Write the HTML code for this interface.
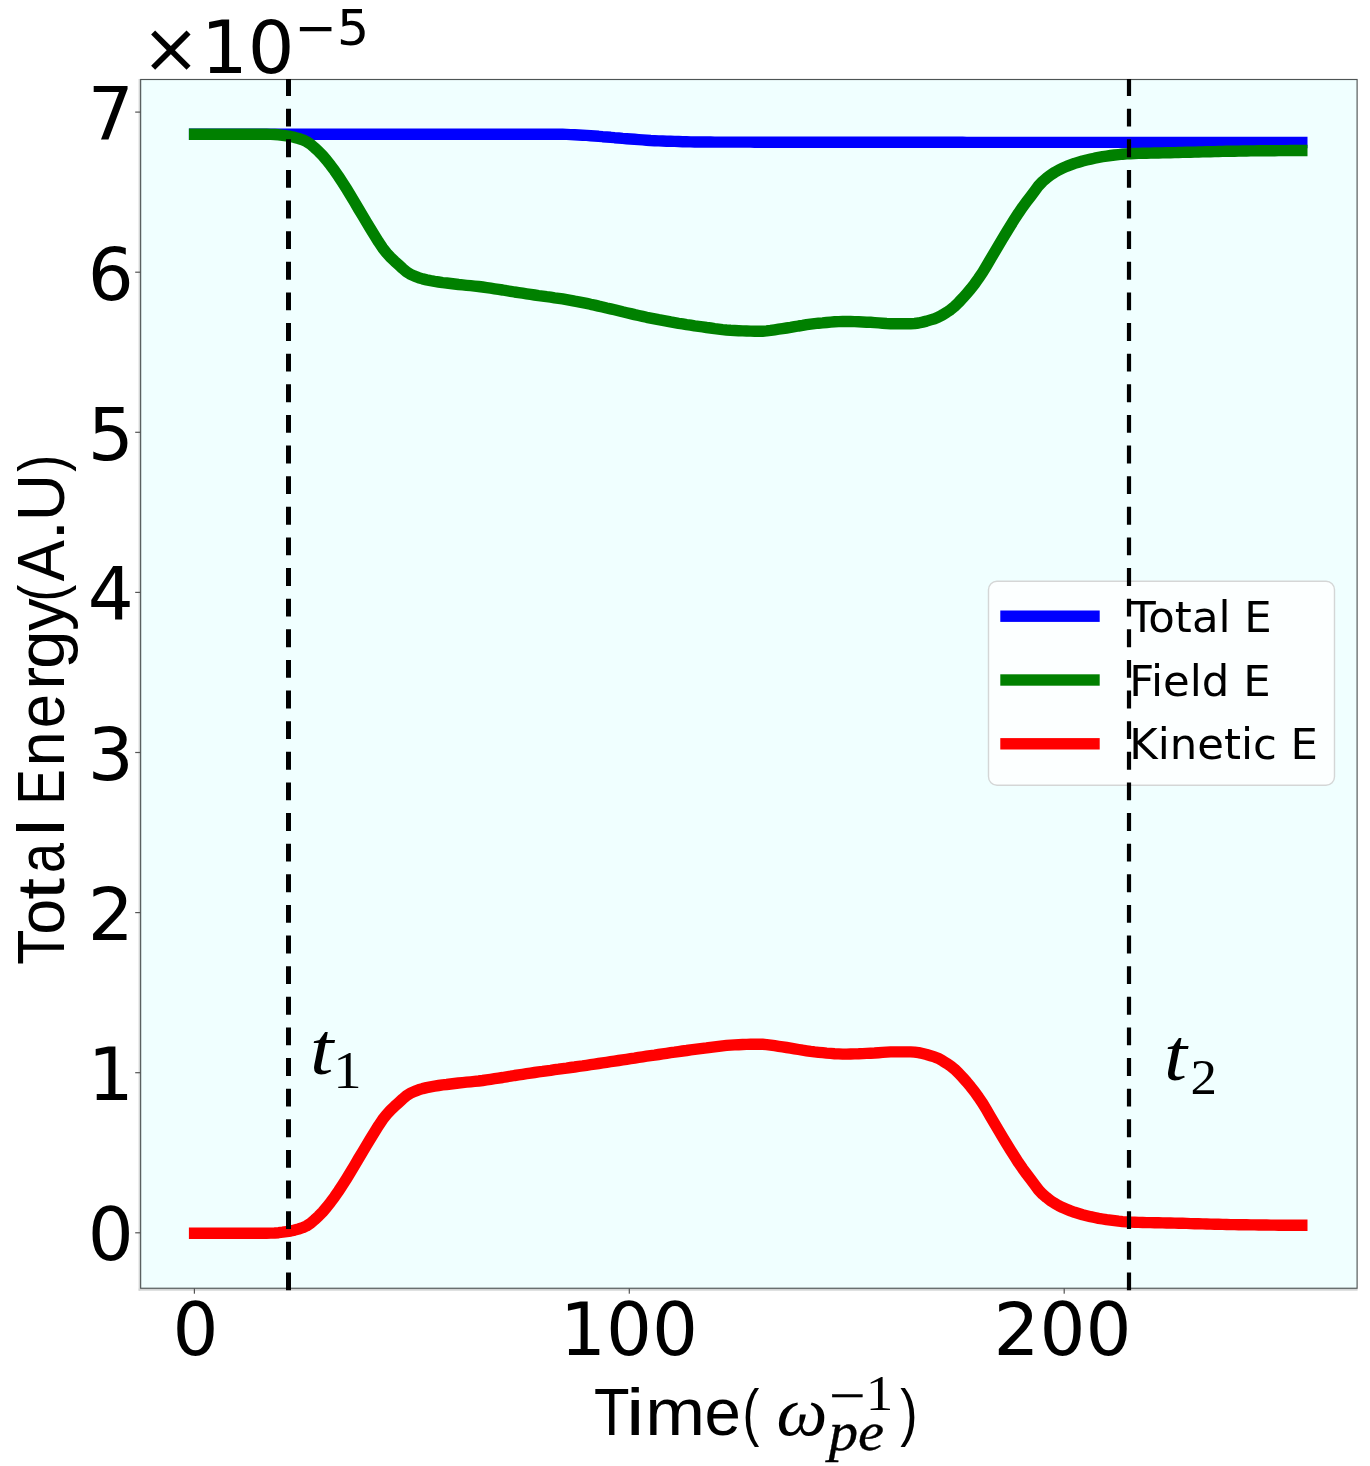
<!DOCTYPE html>
<html lang="en">
<head>
<meta charset="utf-8">
<title>Energy vs Time</title>
<style>
html,body{margin:0;padding:0;background:#fff;}
body{width:1370px;height:1466px;overflow:hidden;}
svg{display:block;}
</style>
</head>
<body>
<svg width="1370" height="1466" viewBox="0 0 1370 1466">
<rect x="0" y="0" width="1370" height="1466" fill="#ffffff"/>
<rect x="138.6" y="79" width="1.6" height="1211.7" fill="#d2d4d4"/>
<rect x="138.6" y="1288.6" width="1219" height="2.1" fill="#d2d4d4"/>
<rect x="140.65" y="79.5" width="1216.45" height="1208.75" fill="#f0ffff" stroke="#4e5454" stroke-width="1.15"/>
<rect x="193.8" y="1288.3" width="1.2" height="5.4" fill="#555"/>
<rect x="628.6999999999999" y="1288.3" width="1.2" height="5.4" fill="#555"/>
<rect x="1063.6000000000001" y="1288.3" width="1.2" height="5.4" fill="#555"/>
<rect x="135.2" y="1232.2" width="5.4" height="1.2" fill="#555"/>
<rect x="135.2" y="1072.1000000000001" width="5.4" height="1.2" fill="#555"/>
<rect x="135.2" y="911.9999999999999" width="5.4" height="1.2" fill="#555"/>
<rect x="135.2" y="751.9" width="5.4" height="1.2" fill="#555"/>
<rect x="135.2" y="591.8" width="5.4" height="1.2" fill="#555"/>
<rect x="135.2" y="431.69999999999993" width="5.4" height="1.2" fill="#555"/>
<rect x="135.2" y="271.6" width="5.4" height="1.2" fill="#555"/>
<rect x="135.2" y="111.49999999999991" width="5.4" height="1.2" fill="#555"/>
<g fill="none" stroke-width="11.4" stroke-linecap="square" stroke-linejoin="round">
<polyline stroke="#0000ff" points="194.6,134.2 198.6,134.2 202.6,134.2 206.6,134.2 210.6,134.2 214.6,134.2 218.6,134.2 222.6,134.2 226.6,134.2 230.6,134.2 234.6,134.2 238.6,134.2 242.6,134.2 246.6,134.2 250.6,134.2 254.6,134.2 258.6,134.2 262.6,134.2 266.6,134.2 270.6,134.2 274.6,134.2 278.6,134.2 282.6,134.2 286.6,134.2 290.6,134.2 294.6,134.2 298.6,134.2 302.6,134.2 306.6,134.2 310.6,134.2 314.6,134.2 318.6,134.2 322.6,134.2 326.6,134.2 330.6,134.2 334.6,134.2 338.6,134.2 342.6,134.2 346.6,134.2 350.6,134.2 354.6,134.2 358.6,134.2 362.6,134.2 366.6,134.2 370.6,134.2 374.6,134.2 378.6,134.2 382.6,134.2 386.6,134.2 390.6,134.2 394.6,134.2 398.6,134.2 402.6,134.2 406.6,134.2 410.6,134.2 414.6,134.2 418.6,134.2 422.6,134.2 426.6,134.2 430.6,134.2 434.6,134.2 438.6,134.2 442.6,134.2 446.6,134.2 450.6,134.2 454.6,134.2 458.6,134.2 462.6,134.2 466.6,134.2 470.6,134.2 474.6,134.2 478.6,134.2 482.6,134.2 486.6,134.2 490.6,134.2 494.6,134.2 498.6,134.2 502.6,134.2 506.6,134.2 510.6,134.2 514.6,134.2 518.6,134.2 522.6,134.2 526.6,134.2 530.6,134.2 534.6,134.2 538.6,134.2 542.6,134.2 546.6,134.2 550.6,134.2 554.6,134.2 558.6,134.2 562.6,134.3 566.6,134.4 570.6,134.6 574.6,134.8 578.6,135.0 582.6,135.2 586.6,135.4 590.6,135.7 594.6,136.0 598.6,136.3 602.6,136.7 606.6,137.0 610.6,137.3 614.6,137.7 618.6,138.0 622.6,138.4 626.6,138.7 630.6,139.0 634.6,139.3 638.6,139.6 642.6,139.9 646.6,140.2 650.6,140.5 654.6,140.7 658.6,140.9 662.6,141.0 666.6,141.2 670.6,141.3 674.6,141.4 678.6,141.5 682.6,141.7 686.6,141.8 690.6,141.9 694.6,142.0 698.6,142.0 702.6,142.0 706.6,142.0 710.6,142.0 714.6,142.1 718.6,142.1 722.6,142.1 726.6,142.1 730.6,142.1 734.6,142.1 738.6,142.1 742.6,142.1 746.6,142.1 750.6,142.1 754.6,142.2 758.6,142.2 762.6,142.2 766.6,142.2 770.6,142.2 774.6,142.2 778.6,142.2 782.6,142.2 786.6,142.2 790.6,142.2 794.6,142.2 798.6,142.2 802.6,142.2 806.6,142.2 810.6,142.2 814.6,142.2 818.6,142.2 822.6,142.2 826.6,142.2 830.6,142.3 834.6,142.3 838.6,142.3 842.6,142.3 846.6,142.3 850.6,142.3 854.6,142.3 858.6,142.3 862.6,142.3 866.6,142.3 870.6,142.3 874.6,142.3 878.6,142.3 882.6,142.3 886.6,142.3 890.6,142.3 894.6,142.3 898.6,142.3 902.6,142.3 906.6,142.3 910.6,142.3 914.6,142.3 918.6,142.3 922.6,142.3 926.6,142.3 930.6,142.3 934.6,142.3 938.6,142.3 942.6,142.3 946.6,142.3 950.6,142.3 954.6,142.3 958.6,142.3 962.6,142.3 966.6,142.4 970.6,142.4 974.6,142.4 978.6,142.4 982.6,142.4 986.6,142.4 990.6,142.4 994.6,142.4 998.6,142.4 1002.6,142.4 1006.6,142.4 1010.6,142.4 1014.6,142.4 1018.6,142.4 1022.6,142.4 1026.6,142.4 1030.6,142.4 1034.6,142.4 1038.6,142.4 1042.6,142.4 1046.6,142.4 1050.6,142.4 1054.6,142.4 1058.6,142.4 1062.6,142.4 1066.6,142.4 1070.6,142.4 1074.6,142.4 1078.6,142.4 1082.6,142.4 1086.6,142.4 1090.6,142.4 1094.6,142.4 1098.6,142.4 1102.6,142.4 1106.6,142.4 1110.6,142.4 1114.6,142.4 1118.6,142.4 1122.6,142.5 1126.6,142.5 1130.6,142.5 1134.6,142.5 1138.6,142.5 1142.6,142.5 1146.6,142.5 1150.6,142.5 1154.6,142.5 1158.6,142.5 1162.6,142.5 1166.6,142.5 1170.6,142.5 1174.6,142.5 1178.6,142.5 1182.6,142.5 1186.6,142.5 1190.6,142.5 1194.6,142.5 1198.6,142.5 1202.6,142.5 1206.6,142.5 1210.6,142.5 1214.6,142.5 1218.6,142.5 1222.6,142.5 1226.6,142.5 1230.6,142.5 1234.6,142.5 1238.6,142.5 1242.6,142.5 1246.6,142.5 1250.6,142.5 1254.6,142.5 1258.6,142.5 1262.6,142.5 1266.6,142.5 1270.6,142.5 1274.6,142.5 1278.6,142.5 1282.6,142.5 1286.6,142.5 1290.6,142.5 1294.6,142.5 1301.8,142.5"/>
<polyline stroke="#008000" points="194.6,134.2 198.6,134.2 202.6,134.2 206.6,134.2 210.6,134.2 214.6,134.2 218.6,134.2 222.6,134.2 226.6,134.2 230.6,134.2 234.6,134.2 238.6,134.2 242.6,134.2 246.6,134.2 250.6,134.2 254.6,134.2 258.6,134.2 262.6,134.3 266.6,134.3 270.6,134.4 274.6,134.5 278.6,134.8 282.6,135.3 286.6,135.9 290.6,136.5 294.6,137.4 298.6,138.5 302.6,139.8 306.6,141.6 310.6,144.2 314.6,147.7 318.6,151.4 322.6,155.5 326.6,160.2 330.6,165.3 334.6,170.7 338.6,176.5 342.6,182.6 346.6,188.9 350.6,195.5 354.6,202.2 358.6,209.0 362.6,215.7 366.6,222.4 370.6,229.0 374.6,235.4 378.6,241.9 382.6,247.9 386.6,253.0 390.6,257.4 394.6,261.2 398.6,264.8 402.6,268.5 406.6,271.9 410.6,274.3 414.6,276.2 418.6,277.7 422.6,278.9 426.6,279.9 430.6,280.7 434.6,281.4 438.6,282.0 442.6,282.6 446.6,283.0 450.6,283.5 454.6,284.0 458.6,284.5 462.6,284.9 466.6,285.3 470.6,285.7 474.6,286.1 478.6,286.5 482.6,287.0 486.6,287.6 490.6,288.2 494.6,288.8 498.6,289.4 502.6,290.0 506.6,290.7 510.6,291.3 514.6,292.0 518.6,292.6 522.6,293.2 526.6,293.8 530.6,294.4 534.6,295.0 538.6,295.6 542.6,296.1 546.6,296.7 550.6,297.2 554.6,297.8 558.6,298.3 562.6,298.9 566.6,299.6 570.6,300.3 574.6,301.1 578.6,301.8 582.6,302.6 586.6,303.4 590.6,304.3 594.6,305.1 598.6,306.1 602.6,307.0 606.6,308.0 610.6,308.9 614.6,309.8 618.6,310.8 622.6,311.8 626.6,312.7 630.6,313.6 634.6,314.6 638.6,315.5 642.6,316.4 646.6,317.3 650.6,318.1 654.6,318.9 658.6,319.7 662.6,320.4 666.6,321.1 670.6,321.9 674.6,322.6 678.6,323.3 682.6,323.9 686.6,324.6 690.6,325.2 694.6,325.9 698.6,326.4 702.6,326.9 706.6,327.5 710.6,328.0 714.6,328.6 718.6,329.1 722.6,329.6 726.6,330.0 730.6,330.3 734.6,330.5 738.6,330.7 742.6,330.9 746.6,331.0 750.6,331.1 754.6,331.2 758.6,331.3 762.6,331.2 766.6,330.9 770.6,330.4 774.6,329.8 778.6,329.2 782.6,328.6 786.6,328.0 790.6,327.4 794.6,326.7 798.6,326.0 802.6,325.4 806.6,324.7 810.6,324.1 814.6,323.6 818.6,323.2 822.6,322.9 826.6,322.5 830.6,322.1 834.6,321.8 838.6,321.6 842.6,321.5 846.6,321.5 850.6,321.5 854.6,321.6 858.6,321.8 862.6,322.0 866.6,322.2 870.6,322.3 874.6,322.6 878.6,322.9 882.6,323.2 886.6,323.5 890.6,323.7 894.6,323.7 898.6,323.7 902.6,323.7 906.6,323.7 910.6,323.7 914.6,323.5 918.6,323.0 922.6,322.1 926.6,321.1 930.6,319.9 934.6,318.7 938.6,317.0 942.6,314.9 946.6,312.4 950.6,309.7 954.6,306.4 958.6,302.5 962.6,298.2 966.6,293.7 970.6,289.0 974.6,283.9 978.6,278.3 982.6,272.4 986.6,265.8 990.6,258.9 994.6,252.1 998.6,245.3 1002.6,238.6 1006.6,232.0 1010.6,225.5 1014.6,219.1 1018.6,212.9 1022.6,207.1 1026.6,201.7 1030.6,196.5 1034.6,191.1 1038.6,185.7 1042.6,181.5 1046.6,178.1 1050.6,175.0 1054.6,172.4 1058.6,170.1 1062.6,168.2 1066.6,166.4 1070.6,164.9 1074.6,163.4 1078.6,162.2 1082.6,161.0 1086.6,160.0 1090.6,159.1 1094.6,158.2 1098.6,157.4 1102.6,156.7 1106.6,156.1 1110.6,155.5 1114.6,155.0 1118.6,154.6 1122.6,154.2 1126.6,153.9 1130.6,153.7 1134.6,153.5 1138.6,153.4 1142.6,153.3 1146.6,153.2 1150.6,153.1 1154.6,153.0 1158.6,153.0 1162.6,152.9 1166.6,152.8 1170.6,152.7 1174.6,152.6 1178.6,152.5 1182.6,152.4 1186.6,152.3 1190.6,152.2 1194.6,152.1 1198.6,152.0 1202.6,151.9 1206.6,151.8 1210.6,151.7 1214.6,151.6 1218.6,151.5 1222.6,151.4 1226.6,151.3 1230.6,151.2 1234.6,151.2 1238.6,151.1 1242.6,151.0 1246.6,151.0 1250.6,150.9 1254.6,150.9 1258.6,150.8 1262.6,150.8 1266.6,150.7 1270.6,150.7 1274.6,150.7 1278.6,150.6 1282.6,150.6 1286.6,150.6 1290.6,150.5 1294.6,150.5 1301.8,150.5"/>
<polyline stroke="#ff0000" points="194.6,1233.3 198.6,1233.3 202.6,1233.3 206.6,1233.3 210.6,1233.3 214.6,1233.3 218.6,1233.3 222.6,1233.3 226.6,1233.3 230.6,1233.3 234.6,1233.3 238.6,1233.3 242.6,1233.3 246.6,1233.3 250.6,1233.3 254.6,1233.3 258.6,1233.3 262.6,1233.2 266.6,1233.2 270.6,1233.1 274.6,1233.0 278.6,1232.7 282.6,1232.2 286.6,1231.6 290.6,1231.0 294.6,1230.1 298.6,1229.0 302.6,1227.7 306.6,1225.9 310.6,1223.3 314.6,1219.8 318.6,1216.1 322.6,1212.0 326.6,1207.3 330.6,1202.2 334.6,1196.8 338.6,1191.0 342.6,1184.9 346.6,1178.6 350.6,1172.0 354.6,1165.3 358.6,1158.5 362.6,1151.8 366.6,1145.1 370.6,1138.5 374.6,1132.1 378.6,1125.6 382.6,1119.6 386.6,1114.5 390.6,1110.1 394.6,1106.3 398.6,1102.7 402.6,1099.0 406.6,1095.6 410.6,1093.2 414.6,1091.3 418.6,1089.8 422.6,1088.6 426.6,1087.6 430.6,1086.8 434.6,1086.1 438.6,1085.5 442.6,1084.9 446.6,1084.5 450.6,1084.0 454.6,1083.5 458.6,1083.0 462.6,1082.6 466.6,1082.2 470.6,1081.8 474.6,1081.4 478.6,1081.0 482.6,1080.5 486.6,1079.9 490.6,1079.3 494.6,1078.7 498.6,1078.1 502.6,1077.5 506.6,1076.8 510.6,1076.2 514.6,1075.5 518.6,1074.9 522.6,1074.3 526.6,1073.7 530.6,1073.1 534.6,1072.5 538.6,1071.9 542.6,1071.4 546.6,1070.8 550.6,1070.3 554.6,1069.7 558.6,1069.2 562.6,1068.6 566.6,1068.1 570.6,1067.5 574.6,1067.0 578.6,1066.4 582.6,1065.9 586.6,1065.3 590.6,1064.7 594.6,1064.1 598.6,1063.5 602.6,1062.9 606.6,1062.3 610.6,1061.7 614.6,1061.1 618.6,1060.5 622.6,1059.9 626.6,1059.3 630.6,1058.7 634.6,1058.1 638.6,1057.4 642.6,1056.8 646.6,1056.2 650.6,1055.6 654.6,1055.1 658.6,1054.5 662.6,1053.9 666.6,1053.3 670.6,1052.7 674.6,1052.2 678.6,1051.6 682.6,1051.0 686.6,1050.5 690.6,1049.9 694.6,1049.4 698.6,1048.9 702.6,1048.4 706.6,1047.9 710.6,1047.3 714.6,1046.8 718.6,1046.3 722.6,1045.8 726.6,1045.4 730.6,1045.1 734.6,1044.9 738.6,1044.7 742.6,1044.5 746.6,1044.4 750.6,1044.3 754.6,1044.2 758.6,1044.2 762.6,1044.3 766.6,1044.6 770.6,1045.1 774.6,1045.7 778.6,1046.3 782.6,1046.9 786.6,1047.5 790.6,1048.1 794.6,1048.8 798.6,1049.5 802.6,1050.2 806.6,1050.8 810.6,1051.4 814.6,1051.9 818.6,1052.3 822.6,1052.7 826.6,1053.1 830.6,1053.4 834.6,1053.7 838.6,1053.9 842.6,1054.1 846.6,1054.1 850.6,1054.0 854.6,1053.9 858.6,1053.8 862.6,1053.6 866.6,1053.4 870.6,1053.2 874.6,1053.0 878.6,1052.7 882.6,1052.4 886.6,1052.1 890.6,1051.9 894.6,1051.9 898.6,1051.9 902.6,1051.9 906.6,1051.9 910.6,1051.9 914.6,1052.1 918.6,1052.6 922.6,1053.5 926.6,1054.5 930.6,1055.7 934.6,1056.9 938.6,1058.6 942.6,1060.8 946.6,1063.3 950.6,1066.0 954.6,1069.2 958.6,1073.1 962.6,1077.4 966.6,1081.9 970.6,1086.7 974.6,1091.8 978.6,1097.4 982.6,1103.3 986.6,1109.9 990.6,1116.8 994.6,1123.6 998.6,1130.3 1002.6,1137.1 1006.6,1143.7 1010.6,1150.2 1014.6,1156.6 1018.6,1162.8 1022.6,1168.6 1026.6,1174.0 1030.6,1179.2 1034.6,1184.6 1038.6,1190.0 1042.6,1194.2 1046.6,1197.6 1050.6,1200.7 1054.6,1203.3 1058.6,1205.6 1062.6,1207.6 1066.6,1209.3 1070.6,1210.9 1074.6,1212.3 1078.6,1213.5 1082.6,1214.7 1086.6,1215.7 1090.6,1216.7 1094.6,1217.5 1098.6,1218.3 1102.6,1219.0 1106.6,1219.7 1110.6,1220.2 1114.6,1220.7 1118.6,1221.2 1122.6,1221.6 1126.6,1221.9 1130.6,1222.1 1134.6,1222.2 1138.6,1222.4 1142.6,1222.5 1146.6,1222.6 1150.6,1222.6 1154.6,1222.7 1158.6,1222.8 1162.6,1222.9 1166.6,1223.0 1170.6,1223.0 1174.6,1223.1 1178.6,1223.2 1182.6,1223.3 1186.6,1223.4 1190.6,1223.6 1194.6,1223.7 1198.6,1223.8 1202.6,1223.9 1206.6,1224.0 1210.6,1224.1 1214.6,1224.2 1218.6,1224.3 1222.6,1224.4 1226.6,1224.5 1230.6,1224.6 1234.6,1224.6 1238.6,1224.7 1242.6,1224.7 1246.6,1224.8 1250.6,1224.9 1254.6,1224.9 1258.6,1225.0 1262.6,1225.0 1266.6,1225.0 1270.6,1225.1 1274.6,1225.1 1278.6,1225.2 1282.6,1225.2 1286.6,1225.2 1290.6,1225.3 1294.6,1225.3 1301.8,1225.3"/>
</g>
<rect x="988.5" y="581.2" width="346" height="204" rx="8.5" ry="8.5" fill="#ffffff" fill-opacity="0.8" stroke="#cccccc" stroke-opacity="0.8" stroke-width="1.4"/>
<rect x="1000.3" y="610.5" width="99.4" height="11.4" fill="#0000ff"/>
<rect x="1000.3" y="674.3" width="99.4" height="11.4" fill="#008000"/>
<rect x="1000.3" y="738.0999999999999" width="99.4" height="11.4" fill="#ff0000"/>
<g font-family="'DejaVu Sans', 'Liberation Sans', sans-serif" font-size="43.4" fill="#000">
<text x="1129.2" y="631.8000000000001">Total E</text>
<text x="1129.2" y="695.6">Field E</text>
<text x="1129.2" y="759.4">Kinetic E</text>
</g>
<g font-family="'DejaVu Sans', 'Liberation Sans', sans-serif" font-size="72.3" fill="#000">
<text x="195.4" y="1354.8" text-anchor="middle">0</text>
<text x="629.0" y="1354.8" text-anchor="middle">100</text>
<text x="1062.6000000000001" y="1354.8" text-anchor="middle">200</text>
<text x="133.7" y="1260.1" text-anchor="end">0</text>
<text x="133.7" y="1100.0" text-anchor="end">1</text>
<text x="133.7" y="939.8999999999999" text-anchor="end">2</text>
<text x="133.7" y="779.8" text-anchor="end">3</text>
<text x="133.7" y="619.6999999999999" text-anchor="end">4</text>
<text x="133.7" y="459.59999999999997" text-anchor="end">5</text>
<text x="133.7" y="299.50000000000006" text-anchor="end">6</text>
<text x="133.7" y="139.39999999999992" text-anchor="end">7</text>
<text x="141.6" y="72.4" font-size="70">×</text><text x="200.9" y="73.0" font-size="73.5">10</text><text x="294.6" y="44.5" font-size="50.5">−5</text>
</g>
<line x1="288.5" y1="1290.3" x2="288.5" y2="78.89999999999999" stroke="#000" stroke-width="5" stroke-dasharray="17.8 12.826"/>
<line x1="1129" y1="1290.3" x2="1129" y2="78.89999999999999" stroke="#000" stroke-width="4.2" stroke-dasharray="17.8 12.826"/>
<g fill="#000" style="font-kerning:none">
<g transform="translate(64 963.4) rotate(-90)">
<text x="-1.29" y="0" font-family="'Liberation Sans', sans-serif" font-size="66" textLength="35.11" lengthAdjust="spacingAndGlyphs">T</text>
<text x="28.78" y="0" font-family="'Liberation Sans', sans-serif" font-size="66" textLength="36.04" lengthAdjust="spacingAndGlyphs">o</text>
<text x="63.71" y="0" font-family="'Liberation Sans', sans-serif" font-size="66" textLength="21.87" lengthAdjust="spacingAndGlyphs">t</text>
<text x="90.31" y="0" font-family="'Liberation Sans', sans-serif" font-size="66" textLength="29.99" lengthAdjust="spacingAndGlyphs">a</text>
<text x="127.13" y="0" font-family="'Liberation Sans', sans-serif" font-size="66" textLength="17.69" lengthAdjust="spacingAndGlyphs">l</text>
<text x="158.87" y="0" font-family="'Liberation Sans', sans-serif" font-size="66" textLength="35.2" lengthAdjust="spacingAndGlyphs">E</text>
<text x="197.23" y="0" font-family="'Liberation Sans', sans-serif" font-size="66" textLength="34.96" lengthAdjust="spacingAndGlyphs">n</text>
<text x="235.18" y="0" font-family="'Liberation Sans', sans-serif" font-size="66" textLength="34.25" lengthAdjust="spacingAndGlyphs">e</text>
<text x="273.63" y="0" font-family="'Liberation Sans', sans-serif" font-size="66" textLength="22.91" lengthAdjust="spacingAndGlyphs">r</text>
<text x="294.37" y="0" font-family="'Liberation Sans', sans-serif" font-size="66" textLength="38.83" lengthAdjust="spacingAndGlyphs">g</text>
<text x="332.44" y="0" font-family="'Liberation Sans', sans-serif" font-size="66" textLength="32.69" lengthAdjust="spacingAndGlyphs">y</text>
<text x="361.87" y="-0.8" font-family="'Liberation Sans', sans-serif" font-size="63" textLength="16.83" lengthAdjust="spacingAndGlyphs">(</text>
<text x="382.08" y="0" font-family="'Liberation Sans', sans-serif" font-size="66" textLength="41.24" lengthAdjust="spacingAndGlyphs">A</text>
<text x="422.11" y="0" font-family="'Liberation Sans', sans-serif" font-size="66" textLength="22.18" lengthAdjust="spacingAndGlyphs">.</text>
<text x="442.05" y="0" font-family="'Liberation Sans', sans-serif" font-size="66" textLength="47.31" lengthAdjust="spacingAndGlyphs">U</text>
<text x="491.6" y="-0.8" font-family="'Liberation Sans', sans-serif" font-size="63" textLength="16.83" lengthAdjust="spacingAndGlyphs">)</text>
</g>
<text x="593.89" y="1435" font-family="'Liberation Sans', sans-serif" font-size="66" textLength="35.54" lengthAdjust="spacingAndGlyphs">T</text>
<text x="626.14" y="1435" font-family="'Liberation Sans', sans-serif" font-size="66" textLength="18.45" lengthAdjust="spacingAndGlyphs">i</text>
<text x="645.23" y="1435" font-family="'Liberation Sans', sans-serif" font-size="66" textLength="59.8" lengthAdjust="spacingAndGlyphs">m</text>
<text x="704.52" y="1435" font-family="'Liberation Sans', sans-serif" font-size="66" textLength="36.39" lengthAdjust="spacingAndGlyphs">e</text>
<text x="742.47" y="1434.2" font-family="'Liberation Sans', sans-serif" font-size="63" textLength="16.83" lengthAdjust="spacingAndGlyphs">(</text>
<text x="900.2" y="1434.2" font-family="'Liberation Sans', sans-serif" font-size="63" textLength="17.33" lengthAdjust="spacingAndGlyphs">)</text>
<text x="776.4" y="1435.3" font-family="'Liberation Serif', 'DejaVu Serif', serif" font-size="70" font-style="italic" textLength="50.97" lengthAdjust="spacingAndGlyphs">ω</text>
<text x="828.74" y="1449.8" font-family="'Liberation Serif', 'DejaVu Serif', serif" font-size="54.5" font-style="italic" stroke="#000" stroke-width="0.35" textLength="55.38" lengthAdjust="spacingAndGlyphs">pe</text>
<text x="828.68" y="1413" font-family="'Liberation Serif', 'DejaVu Serif', serif" font-size="51.4" stroke="#000" stroke-width="0.35" textLength="36.48" lengthAdjust="spacingAndGlyphs">−</text>
<text x="865.66" y="1410" font-family="'Liberation Serif', 'DejaVu Serif', serif" font-size="51.4" textLength="27.55" lengthAdjust="spacingAndGlyphs">1</text>
<text x="309.9" y="1074.3" font-family="'Liberation Serif', 'DejaVu Serif', serif" font-size="74.5" font-style="italic" textLength="23.42" lengthAdjust="spacingAndGlyphs">t</text>
<text x="333.21" y="1088" font-family="'Liberation Serif', 'DejaVu Serif', serif" font-size="51.8" textLength="28.4" lengthAdjust="spacingAndGlyphs">1</text>
<text x="1163.97" y="1080.4" font-family="'Liberation Serif', 'DejaVu Serif', serif" font-size="74.5" font-style="italic" textLength="22.98" lengthAdjust="spacingAndGlyphs">t</text>
<text x="1190.58" y="1094" font-family="'Liberation Serif', 'DejaVu Serif', serif" font-size="50.8" textLength="26.44" lengthAdjust="spacingAndGlyphs">2</text>
</g>
</svg>
</body>
</html>
